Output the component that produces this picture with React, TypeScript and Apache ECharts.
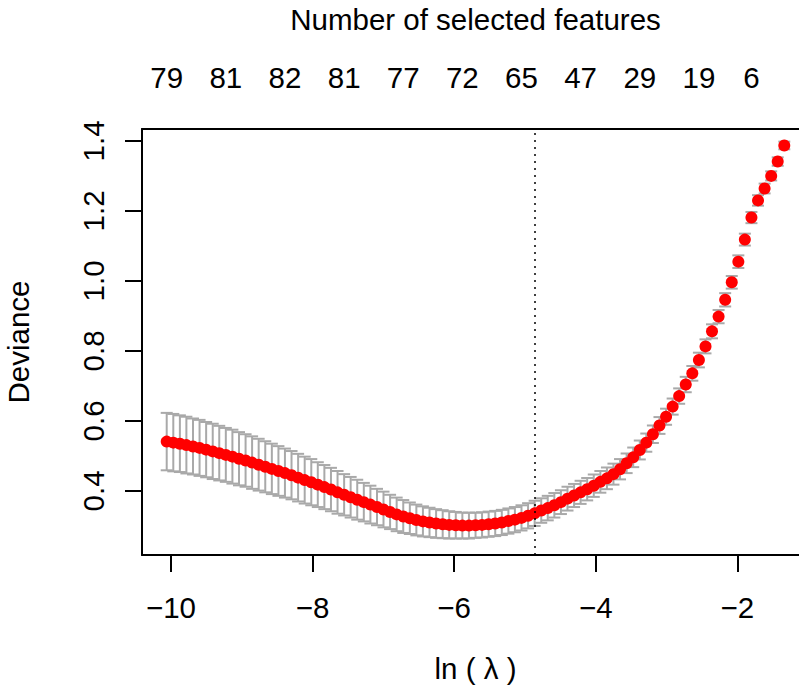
import React, { useEffect, useRef } from "react";
import * as echarts from "echarts";

// log(lambda) of each fitted lambda
const logLambda = [
  -10.06, -9.967, -9.874, -9.782, -9.689, -9.596, -9.503, -9.41, -9.318, -9.225,
  -9.132, -9.039, -8.946, -8.854, -8.761, -8.668, -8.575, -8.482, -8.39, -8.297,
  -8.204, -8.111, -8.018, -7.926, -7.833, -7.74, -7.647, -7.554, -7.462, -7.369,
  -7.276, -7.183, -7.09, -6.998, -6.905, -6.812, -6.719, -6.626, -6.534, -6.441,
  -6.348, -6.255, -6.162, -6.07, -5.977, -5.884, -5.791, -5.698, -5.606, -5.513,
  -5.42, -5.327, -5.234, -5.142, -5.049, -4.956, -4.863, -4.77, -4.678, -4.585,
  -4.492, -4.399, -4.306, -4.214, -4.121, -4.028, -3.935, -3.842, -3.75, -3.657,
  -3.564, -3.471, -3.378, -3.286, -3.193, -3.1, -3.007, -2.914, -2.822, -2.729,
  -2.636, -2.543, -2.45, -2.358, -2.265, -2.172, -2.079, -1.986, -1.894, -1.801,
  -1.708, -1.615, -1.522, -1.43, -1.337,
];

// mean cross-validated deviance
const deviance = [
  0.541, 0.538, 0.535, 0.531, 0.527, 0.523, 0.518, 0.513, 0.508, 0.503,
  0.498, 0.492, 0.487, 0.481, 0.475, 0.469, 0.463, 0.457, 0.451, 0.445,
  0.438, 0.431, 0.425, 0.418, 0.411, 0.404, 0.396, 0.389, 0.382, 0.375,
  0.368, 0.361, 0.354, 0.347, 0.34, 0.333, 0.327, 0.322, 0.317, 0.313,
  0.31, 0.307, 0.305, 0.303, 0.302, 0.301, 0.301, 0.302, 0.303, 0.305,
  0.307, 0.31, 0.314, 0.318, 0.323, 0.329, 0.336, 0.344, 0.351, 0.359,
  0.368, 0.378, 0.387, 0.396, 0.405, 0.415, 0.426, 0.436, 0.448, 0.462,
  0.479, 0.496, 0.517, 0.538, 0.562, 0.587, 0.612, 0.641, 0.671, 0.704,
  0.736, 0.774, 0.813, 0.856, 0.898, 0.946, 0.996, 1.055, 1.118, 1.181,
  1.23, 1.264, 1.3, 1.341, 1.387,
];

// standard error of the deviance
const devianceSE = [
  0.082, 0.082, 0.081, 0.081, 0.08, 0.08, 0.079, 0.079, 0.078, 0.077,
  0.077, 0.076, 0.075, 0.075, 0.074, 0.073, 0.072, 0.071, 0.07, 0.069,
  0.068, 0.067, 0.066, 0.064, 0.063, 0.062, 0.061, 0.059, 0.058, 0.057,
  0.055, 0.054, 0.052, 0.051, 0.049, 0.048, 0.047, 0.045, 0.044, 0.043,
  0.042, 0.041, 0.04, 0.039, 0.038, 0.037, 0.037, 0.036, 0.036, 0.036,
  0.036, 0.036, 0.036, 0.036, 0.036, 0.036, 0.036, 0.035, 0.035, 0.035,
  0.034, 0.034, 0.033, 0.033, 0.032, 0.032, 0.031, 0.031, 0.03, 0.029,
  0.028, 0.028, 0.027, 0.026, 0.025, 0.024, 0.023, 0.023, 0.022, 0.022,
  0.021, 0.021, 0.02, 0.02, 0.019, 0.019, 0.018, 0.018, 0.017, 0.016,
  0.015, 0.014, 0.013, 0.012, 0.011,
];

// top axis: number of selected features
const topLabelPos = [-10.06, -9.225, -8.39, -7.554, -6.719, -5.884, -5.049, -4.214, -3.378, -2.543, -1.801];
const topLabelText = ["79", "81", "82", "81", "77", "72", "65", "47", "29", "19", "6"];

const xTicks = [-10, -8, -6, -4, -2];
const yTicks = [0.4, 0.6, 0.8, 1.0, 1.2, 1.4];
const lambda1se = -4.863;

const FONT = "'Liberation Sans', Arial, Helvetica, sans-serif";
const FS = 29.5;

export default function App() {
  const ref = useRef<HTMLDivElement>(null);

  useEffect(() => {
    if (!ref.current) return;
    const chart = echarts.init(ref.current, null, { renderer: "svg" });

    const errData = logLambda.map((x, i) => [x, deviance[i], devianceSE[i]]);
    const ptData = logLambda.map((x, i) => [x, deviance[i]]);
    const frame = { show: true, onZero: false, lineStyle: { color: "#000", width: 2 } };

    const option: any = {
      animation: false,
      backgroundColor: "#ffffff",
      textStyle: { fontFamily: FONT },
      grid: {
        left: 142,
        top: 129,
        width: 667,
        height: 426,
        show: false,
        containLabel: false,
        outerBoundsMode: "none",
      },
      xAxis: [
        {
          type: "value",
          position: "bottom",
          min: -10.409,
          max: -0.988,
          splitLine: { show: false },
          axisLine: frame,
          axisTick: {
            show: true,
            inside: false,
            length: 17,
            customValues: xTicks,
            lineStyle: { color: "#000", width: 2 },
          },
          axisLabel: {
            show: true,
            customValues: xTicks,
            margin: 37,
            fontSize: FS,
            color: "#000",
            fontFamily: FONT,
            formatter: (v: number) => (v < 0 ? "\u2212" + Math.abs(v) : String(v)),
          },
          name: "ln ( \u03bb )",
          nameLocation: "middle",
          nameGap: 98,
          nameTextStyle: { fontSize: FS, color: "#000", fontFamily: FONT },
        },
        {
          type: "value",
          position: "top",
          min: -10.409,
          max: -0.988,
          splitLine: { show: false },
          axisLine: frame,
          axisTick: { show: false },
          axisLabel: {
            show: true,
            customValues: topLabelPos,
            margin: 37,
            fontSize: FS,
            color: "#000",
            fontFamily: FONT,
            formatter: (v: number) => {
              let best = 0;
              for (let i = 1; i < topLabelPos.length; i++) {
                if (Math.abs(topLabelPos[i] - v) < Math.abs(topLabelPos[best] - v)) best = i;
              }
              return topLabelText[best];
            },
          },
          name: "Number of selected features",
          nameLocation: "middle",
          nameGap: 95,
          nameTextStyle: { fontSize: FS, color: "#000", fontFamily: FONT },
        },
      ],
      yAxis: {
        type: "value",
        min: 0.217,
        max: 1.434,
        splitLine: { show: false },
        axisLine: frame,
        axisTick: {
          show: true,
          inside: false,
          length: 17,
          customValues: yTicks,
          lineStyle: { color: "#000", width: 2 },
        },
        axisLabel: {
          show: true,
          customValues: yTicks,
          rotate: 90,
          margin: 34,
          fontSize: FS,
          color: "#000",
          fontFamily: FONT,
          formatter: (v: number) => v.toFixed(1),
        },
        name: "Deviance",
        nameLocation: "middle",
        nameGap: 109,
        nameRotate: 90,
        nameTextStyle: { fontSize: FS, color: "#000", fontFamily: FONT },
      },
      series: [
        {
          type: "custom",
          xAxisIndex: 0,
          yAxisIndex: 0,
          data: errData,
          encode: { x: 0, y: 1 },
          clip: false,
          renderItem: (params: any, api: any) => {
            const x = api.value(0);
            const y = api.value(1);
            const se = api.value(2);
            const top = api.coord([x, y + se]);
            const bot = api.coord([x, y - se]);
            const hw = 6;
            const st = { stroke: "#A9A9A9", lineWidth: 2 };
            return {
              type: "group",
              children: [
                { type: "line", shape: { x1: top[0], y1: top[1], x2: bot[0], y2: bot[1] }, style: st },
                { type: "line", shape: { x1: top[0] - hw, y1: top[1], x2: top[0] + hw, y2: top[1] }, style: st },
                { type: "line", shape: { x1: bot[0] - hw, y1: bot[1], x2: bot[0] + hw, y2: bot[1] }, style: st },
              ],
            };
          },
          z: 2,
        },
        {
          type: "scatter",
          xAxisIndex: 0,
          yAxisIndex: 0,
          data: ptData,
          symbol: "circle",
          symbolSize: 12,
          itemStyle: { color: "#FF0000", opacity: 1 },
          z: 3,
          markLine: {
            silent: true,
            symbol: ["none", "none"],
            label: { show: false },
            lineStyle: { color: "#000", type: [2, 5], width: 1.5, opacity: 1 },
            data: [{ xAxis: lambda1se }],
          },
        },
      ],
    };

    chart.setOption(option);
    return () => chart.dispose();
  }, []);

  return (
    <div
      ref={ref}
      style={{ position: "fixed", left: 0, top: 0, width: 799, height: 693, background: "#fff" }}
    />
  );
}
